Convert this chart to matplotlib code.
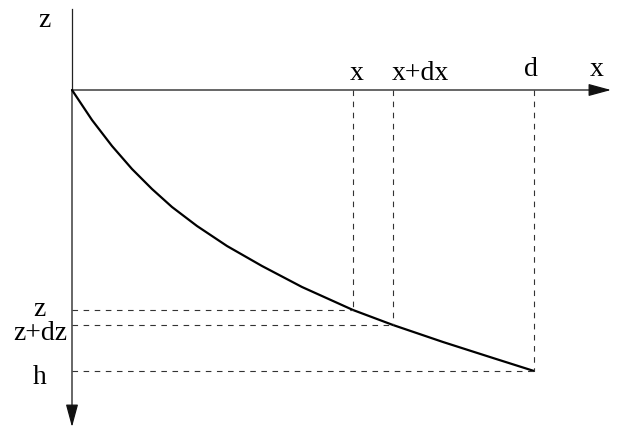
import matplotlib
matplotlib.use("Agg")
import matplotlib.pyplot as plt
from matplotlib.patches import FancyArrowPatch

# profile of the curve z(x), drawing units (z grows downward)
curve_x = [72, 92, 112, 132, 152, 172, 197, 227, 262, 302, 353, 393, 443, 493, 534]
curve_z = [90, 120, 146, 169, 189, 207, 226, 246, 266, 287, 310, 325, 342, 358, 371]

# origin and axis extents
x0, z0 = 72, 90
x_end, z_end = 611, 427
z_top = 9

# guide positions: (x, z) on the curve with their labels
guide_x = [353, 393, 534]
guide_z = [310, 325, 371]
xlabels = ["x", "x+dx", "d"]
zlabels = ["z", "z+dz", "h"]

fig = plt.figure(figsize=(6.25, 4.28), dpi=100)
ax = fig.add_axes([0, 0, 1, 1])
ax.set_xlim(0, 625)
ax.set_ylim(428, 0)
ax.axis("off")

font = dict(family="Liberation Serif", size=20, color="black")

# axes with arrows
ax.plot([x0, x0], [z_top, z0], color="#222222", lw=0.9)
for tip in [(x_end, z0), (x0, z_end)]:
    arr = FancyArrowPatch((x0, z0), tip,
                          arrowstyle="-|>,head_length=14,head_width=3.8",
                          mutation_scale=1, color="#111111", lw=0.9,
                          shrinkA=0, shrinkB=0)
    ax.add_patch(arr)

# curve
ax.plot(curve_x, curve_z, color="black", lw=1.6,
        solid_capstyle="round", solid_joinstyle="round")

# dashed guides
for gx, gz in zip(guide_x, guide_z):
    ax.plot([gx, gx], [z0, gz], color="#333333", lw=0.8, ls=(0, (5, 5)))
    ax.plot([x0, gx], [gz, gz], color="#333333", lw=0.8, ls=(0, (5, 5)))

# labels
ax.text(44, 27, "z", ha="center", va="baseline", **font)
ax.text(597, 76, "x", ha="center", va="baseline", **font)
ax.text(357, 80, xlabels[0], ha="center", va="baseline", **font)
ax.text(420, 80, xlabels[1], ha="center", va="baseline", **font)
ax.text(531, 76, xlabels[2], ha="center", va="baseline", **font)
ax.text(39, 316, zlabels[0], ha="center", va="baseline", **font)
ax.text(40, 340, zlabels[1], ha="center", va="baseline", **font)
ax.text(40, 384, zlabels[2], ha="center", va="baseline", **font)

fig.savefig("out.png", dpi=100, facecolor="white")
